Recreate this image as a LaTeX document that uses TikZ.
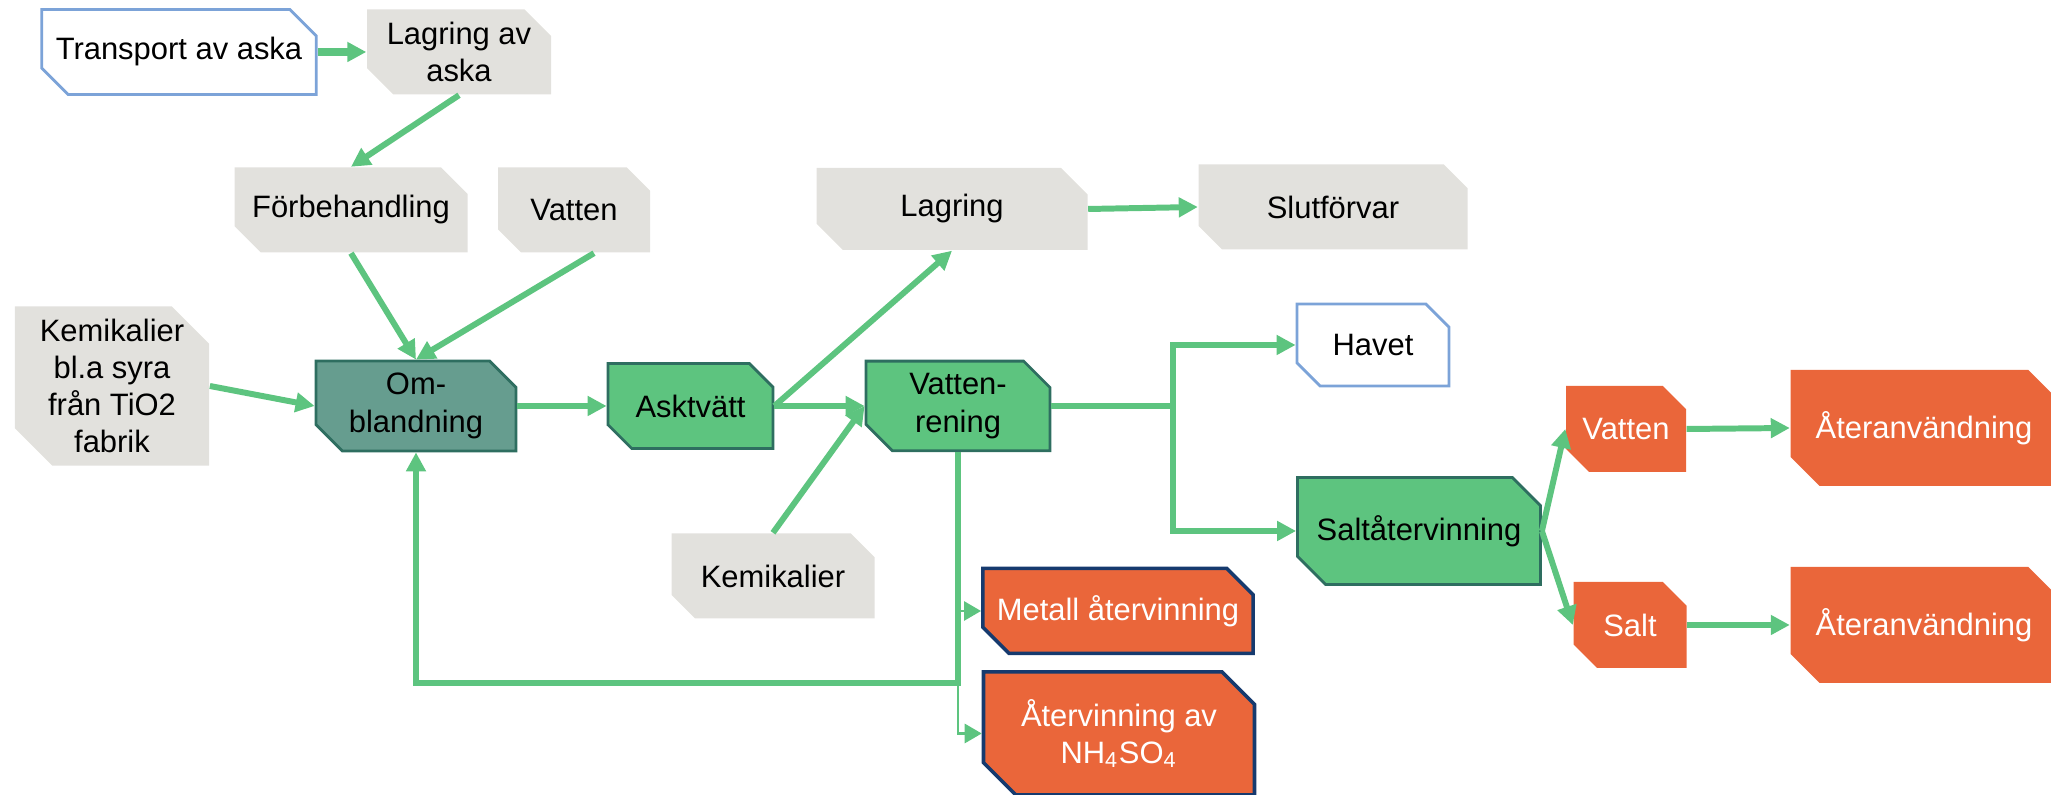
\documentclass[tikz,border=0pt]{standalone}
\usepackage{fontspec}
\setmainfont{Liberation Sans}
\usetikzlibrary{arrows.meta,shapes.misc}

\definecolor{flowgreen}{RGB}{93,196,127}
\definecolor{boxgrey}{RGB}{226,225,221}
\definecolor{mixteal}{RGB}{102,157,143}
\definecolor{darkteal}{RGB}{46,110,96}
\definecolor{outorange}{RGB}{234,102,58}
\definecolor{navyline}{RGB}{22,58,110}
\definecolor{skyline}{RGB}{124,163,216}

\begin{document}
\begin{tikzpicture}[
  every node/.style={font=\fontsize{8.8}{10.6}\selectfont},
  box/.style={chamfered rectangle, chamfered rectangle corners={north east,south west},
              chamfered rectangle xsep=0.14cm, inner sep=0pt, align=center,
              minimum height=0.85cm},
  src/.style={box, fill=boxgrey},
  ext/.style={box, fill=white, draw=skyline, line width=0.8pt},
  proc/.style={box, fill=flowgreen, draw=darkteal, line width=0.8pt},
  mix/.style={proc, fill=mixteal},
  outbox/.style={box, fill=outorange, text=white},
  rec/.style={outbox, draw=navyline, line width=1pt},
  flow/.style={-{Triangle[length=0.19cm,width=0.19cm]}, flowgreen, line width=1.7pt},
  thinflow/.style={-{Triangle[length=0.17cm,width=0.19cm]}, flowgreen, line width=0.8pt},
]
  \useasboundingbox (0,0) rectangle (20.51,-7.95);

  % Inputs
  \node[ext, minimum width=2.72cm] (transport) at (1.79,-0.52) {Transport av aska};
  \node[src, minimum width=1.84cm] (lagaska) at (4.59,-0.52) {Lagring av\\ aska};
  \node[src, minimum width=2.33cm] (forbeh) at (3.51,-2.10) {Förbehandling};
  \node[src, minimum width=1.52cm] (vattenin) at (5.74,-2.10) {Vatten};
  \node[src, minimum width=1.94cm, minimum height=1.54cm, chamfered rectangle xsep=0.25cm]
    (kemtio) at (1.12,-3.86) {Kemikalier\\ bl.a syra\\ från TiO2\\ fabrik};
  \node[src, minimum width=2.03cm] (kemvr) at (7.73,-5.76) {Kemikalier};

  % Process line
  \node[mix, minimum width=2.00cm] (omb) at (4.16,-4.06) {Om-\\ blandning};
  \node[proc, minimum width=1.65cm] (askt) at (6.905,-4.06) {Asktvätt};
  \node[proc, minimum width=1.84cm] (vrening) at (9.58,-4.06) {Vatten-\\ rening};
  \node[proc, minimum width=2.43cm, minimum height=1.07cm, chamfered rectangle xsep=0.18cm]
    (saltv) at (14.19,-5.31) {Saltåtervinning};

  % Storage and outlets
  \node[src, minimum width=2.71cm, minimum height=0.82cm] (lagring) at (9.52,-2.09) {Lagring};
  \node[src, minimum width=2.69cm] (slut) at (13.33,-2.07) {Slutförvar};
  \node[ext, minimum width=1.52cm, minimum height=0.82cm] (havet) at (13.73,-3.45) {Havet};
  \node[rec, minimum width=2.69cm] (metall) at (11.18,-6.11) {Metall återvinning};
  \node[rec, minimum width=2.71cm, minimum height=1.23cm, chamfered rectangle xsep=0.20cm]
    (nh4) at (11.19,-7.335) {Återvinning av\\ NH\textsubscript{4}SO\textsubscript{4}};
  \node[outbox, minimum width=1.20cm, minimum height=0.86cm] (vattenut) at (16.26,-4.29) {Vatten};
  \node[outbox, minimum width=1.13cm, minimum height=0.86cm] (salt) at (16.30,-6.25) {Salt};
  \node[outbox, minimum width=2.67cm, minimum height=1.16cm, chamfered rectangle xsep=0.19cm]
    (ater1) at (19.24,-4.28) {Återanvändning};
  \node[outbox, minimum width=2.67cm, minimum height=1.16cm, chamfered rectangle xsep=0.19cm]
    (ater2) at (19.24,-6.25) {Återanvändning};

  \coordinate (split) at (11.73,-4.06);
  \coordinate (ret) at (9.58,-6.83);

  % Arrows: ash in
  \draw[flow, line width=2.2pt] (transport.east) -- (lagaska.west);
  \draw[flow] (lagaska.south) -- (forbeh.north);
  \draw[flow] (forbeh.south) -- (omb.north);
  \draw[flow] ([xshift=0.2cm]vattenin.south) -- (omb.north);
  \draw[flow] (kemtio.east) -- (omb.west);
  % Arrows: washing
  \draw[flow] (omb.east) -- (askt.west);
  \draw[flow] (askt.east) -- (lagring.south);
  \draw[flow] (askt.east) -- (vrening.west);
  \draw[flow] (kemvr.north) -- (vrening.west);
  \draw[flow] (lagring.east) -- (slut.west);
  % Arrows: water treatment
  \draw[flow] (vrening.east) -- (split) |- (havet.west);
  \draw[flow] (split) |- (saltv.west);
  \draw[flow] (vrening.south) -- (ret) -| (omb.south);
  \draw[thinflow] (ret |- metall.west) -- (metall.west);
  \draw[thinflow] (ret) |- (nh4.west);
  % Arrows: salt recovery
  \draw[flow] (saltv.east) -- (vattenut.west);
  \draw[flow] (saltv.east) -- (salt.west);
  \draw[flow] (vattenut.east) -- (ater1.west);
  \draw[flow] (salt.east) -- (ater2.west);
\end{tikzpicture}
\end{document}
